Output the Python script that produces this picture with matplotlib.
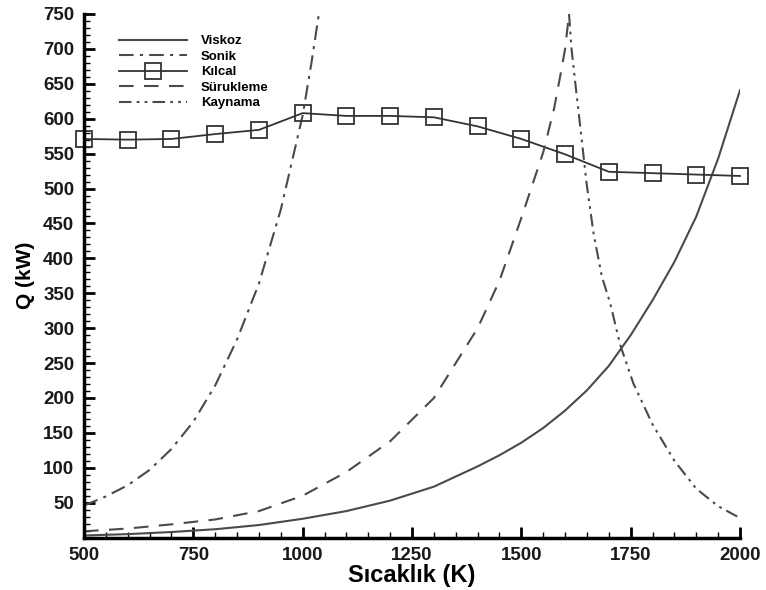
import numpy as np
import matplotlib.pyplot as plt
from matplotlib.ticker import MultipleLocator

plt.rcParams['font.family'] = ['Liberation Sans', 'DejaVu Sans']

# ---- values ----
viskoz_T = [500, 600, 700, 800, 900, 1000, 1100, 1200, 1300, 1400, 1450, 1500, 1550,
            1600, 1650, 1700, 1750, 1800, 1850, 1900, 1950, 2000]
viskoz_Q = [3, 5, 8, 12, 18, 27, 38, 53, 73, 102, 118, 136, 157,
            182, 211, 246, 290, 340, 395, 460, 543, 641]

sonik_T = [500, 550, 600, 650, 700, 750, 800, 850, 900, 950, 1000, 1020, 1037]
sonik_Q = [46, 59, 75, 97, 127, 166, 218, 284, 364, 470, 605, 680, 750]

kilcal_T = [500, 600, 700, 800, 900, 1000, 1100, 1200, 1300, 1400, 1500, 1600,
            1700, 1800, 1900, 2000]
kilcal_Q = [571, 570, 571, 578, 584, 608, 604, 604, 602, 589, 571, 549,
            524, 522, 520, 518]

suruk_T = [500, 600, 700, 800, 900, 1000, 1100, 1200, 1300, 1400, 1450, 1500,
           1550, 1575, 1590, 1600, 1609]
suruk_Q = [9, 13, 19, 26, 38, 60, 94, 138, 200, 300, 368, 458,
           552, 615, 665, 700, 750]

kayn_T = [1609, 1615, 1626, 1638, 1649, 1665, 1684, 1703, 1726, 1756, 1800,
          1850, 1900, 1950, 2000]
kayn_Q = [750, 698, 636, 570, 508, 436, 374, 336, 276, 221, 162,
          110, 70, 45, 28]

line_col = '#4a4a4a'

fig = plt.figure(figsize=(7.66, 5.90), dpi=100)
ax = fig.add_axes([0.1097, 0.0888, 0.8564, 0.8875])

ax.plot(viskoz_T, viskoz_Q, color=line_col, lw=1.5, ls='-', label='Viskoz')
ax.plot(sonik_T, sonik_Q, color=line_col, lw=1.5, ls=(0, (7, 3, 1.5, 3)), label='Sonik')
ax.plot(kilcal_T, kilcal_Q, color='#333333', lw=1.3, ls='-', marker='s', ms=11,
        mfc='none', mec='#333333', mew=1.3, clip_on=False, label='Kılcal')
ax.plot(suruk_T, suruk_Q, color=line_col, lw=1.5, ls=(0, (7, 5)), label='Sürukleme')
ax.plot(kayn_T, kayn_Q, color=line_col, lw=1.5, ls=(0, (6, 2.5, 1.3, 2.5, 1.3, 2.5)),
        label='Kaynama')

ax.set_xlim(500, 2000)
ax.set_ylim(0, 750)
ax.set_xticks([500, 750, 1000, 1250, 1500, 1750, 2000])
ax.set_yticks(np.arange(50, 751, 50))
ax.xaxis.set_minor_locator(MultipleLocator(50))
ax.yaxis.set_minor_locator(MultipleLocator(10))

ax.spines['top'].set_visible(False)
ax.spines['right'].set_visible(False)
ax.spines['left'].set_linewidth(2.5)
ax.spines['bottom'].set_linewidth(2.5)

ax.tick_params(which='major', direction='in', length=8, width=2, labelsize=13.5, pad=7)
ax.tick_params(which='minor', direction='in', length=4, width=1)
for lab in ax.get_xticklabels() + ax.get_yticklabels():
    lab.set_fontweight('bold')
    lab.set_color('#1a1a1a')

ax.set_xlabel('Sıcaklık (K)', fontsize=17, fontweight='bold', labelpad=0)
ax.set_ylabel('Q (kW)', fontsize=15, fontweight='bold', labelpad=6)

leg = ax.legend(loc='upper left', bbox_to_anchor=(0.045, 0.97), frameon=False,
                prop={'size': 9.5, 'weight': 'bold'}, handlelength=5.2,
                handletextpad=1.0, labelspacing=0.25, borderaxespad=0)

fig.savefig('out.png', dpi=100)
